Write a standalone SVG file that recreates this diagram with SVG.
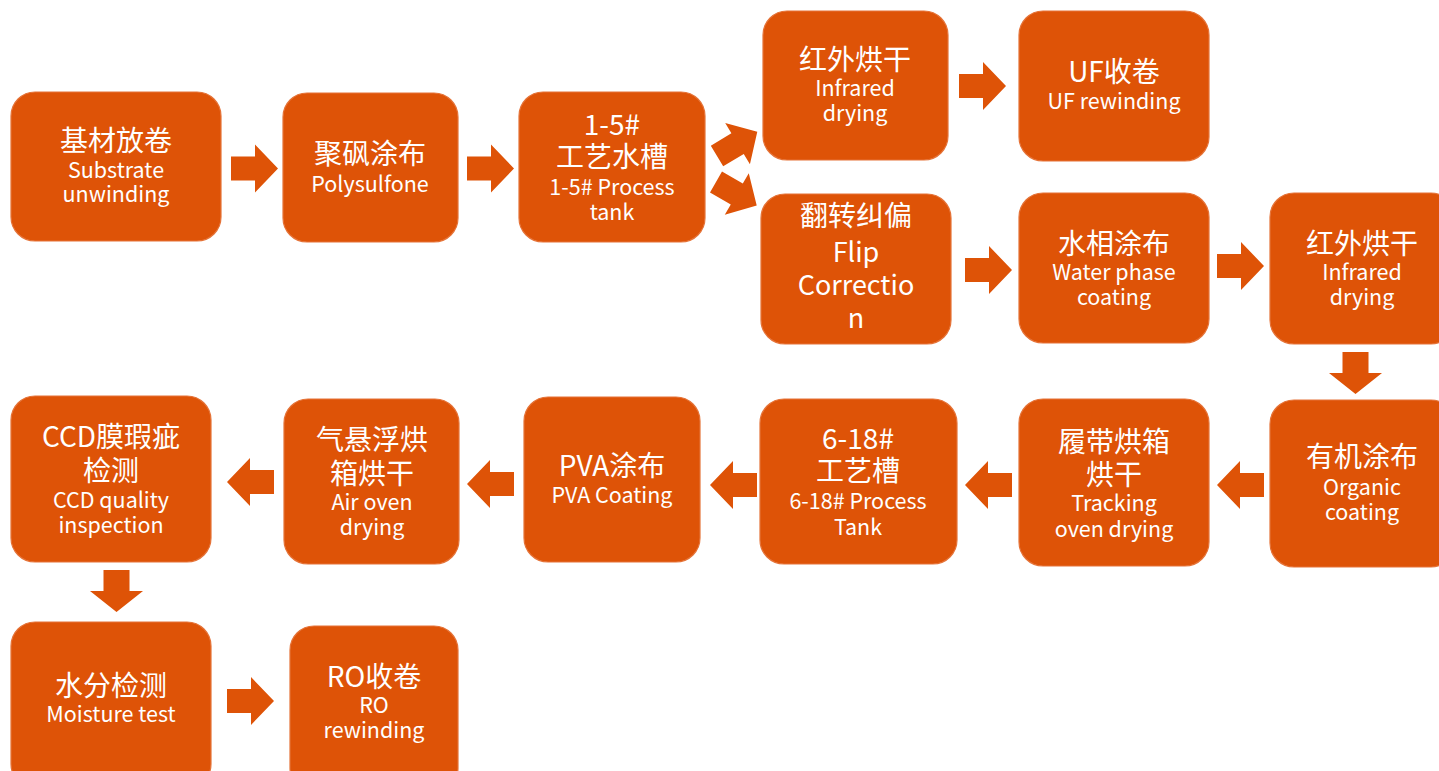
<svg xmlns="http://www.w3.org/2000/svg" xmlns:xlink="http://www.w3.org/1999/xlink" width="1439" height="771" viewBox="0 0 1439 771">
<style>
.box{fill:#DE5307;stroke:#E57338;stroke-width:1.2}
.arr{fill:#DE5307}
text{fill:#FFFFFF;font-family:"Noto Sans CJK SC","Noto Sans",sans-serif;text-anchor:middle}
.zh{font-size:28px}
.en{font-size:21.5px}
.big{font-size:27px}
</style>
<defs>
<path id="ar" d="M0,-12 H24 V-24 L47,0 L24,24 V12 H0 Z"/>
<path id="ad" d="M-13,0 H13 V21 H26.5 L0,42 L-26.5,21 H-13 Z"/>
</defs>
<rect width="1439" height="771" fill="#FFFFFF"/>
<g id="connectors" class="arr">
<use xlink:href="#ar" transform="translate(231,168.5)"/>
<use xlink:href="#ar" transform="translate(467,168.5)"/>
<use xlink:href="#ar" transform="translate(717,156) rotate(-31)"/>
<use xlink:href="#ar" transform="translate(716,182) rotate(30)"/>
<use xlink:href="#ar" transform="translate(959,86)"/>
<use xlink:href="#ar" transform="translate(965,270)"/>
<use xlink:href="#ar" transform="translate(1217,266)"/>
<use xlink:href="#ad" transform="translate(1355.5,352)"/>
<use xlink:href="#ar" transform="translate(1264,485) rotate(180)"/>
<use xlink:href="#ar" transform="translate(1012,485) rotate(180)"/>
<use xlink:href="#ar" transform="translate(757,485) rotate(180)"/>
<use xlink:href="#ar" transform="translate(514,484) rotate(180)"/>
<use xlink:href="#ar" transform="translate(274,482) rotate(180)"/>
<use xlink:href="#ad" transform="translate(116.5,570)"/>
<use xlink:href="#ar" transform="translate(227,701)"/>
</g>
<g id="n1"><rect class="box" x="11" y="92" width="210" height="149" rx="24"/>
<text class="zh" x="116" y="151">基材放卷</text><text class="en" x="116" y="178">Substrate</text><text class="en" x="116" y="202">unwinding</text></g>
<g id="n2"><rect class="box" x="283" y="93" width="175" height="149" rx="24"/>
<text class="zh" x="370" y="164">聚砜涂布</text><text class="en" x="370" y="192">Polysulfone</text></g>
<g id="n3"><rect class="box" x="519" y="92" width="186" height="150" rx="24"/>
<text class="zh" x="612" y="135">1-5#</text><text class="zh" x="612" y="167">工艺水槽</text><text class="en" x="612" y="195">1-5# Process</text><text class="en" x="612" y="220">tank</text></g>
<g id="n4"><rect class="box" x="763" y="11" width="185" height="149" rx="24"/>
<text class="zh" x="855" y="70">红外烘干</text><text class="en" x="855" y="96">Infrared</text><text class="en" x="855" y="121">drying</text></g>
<g id="n5"><rect class="box" x="1019" y="11" width="190" height="150" rx="24"/>
<text class="zh" x="1114" y="82">UF收卷</text><text class="en" x="1114" y="109">UF rewinding</text></g>
<g id="n6"><rect class="box" x="761" y="194" width="190" height="150" rx="24"/>
<text class="zh" x="856" y="226">翻转纠偏</text><text class="big" x="856" y="262">Flip</text><text class="big" x="856" y="295">Correctio</text><text class="big" x="856" y="328">n</text></g>
<g id="n7"><rect class="box" x="1019" y="193" width="190" height="150" rx="24"/>
<text class="zh" x="1114" y="254">水相涂布</text><text class="en" x="1114" y="280">Water phase</text><text class="en" x="1114" y="305">coating</text></g>
<g id="n8"><rect class="box" x="1270" y="193" width="185" height="151" rx="24"/>
<text class="zh" x="1362" y="254">红外烘干</text><text class="en" x="1362" y="280">Infrared</text><text class="en" x="1362" y="305">drying</text></g>
<g id="n9"><rect class="box" x="1270" y="400" width="185" height="167" rx="24"/>
<text class="zh" x="1362" y="467">有机涂布</text><text class="en" x="1362" y="495">Organic</text><text class="en" x="1362" y="520">coating</text></g>
<g id="n10"><rect class="box" x="1019" y="399" width="190" height="167" rx="24"/>
<text class="zh" x="1114" y="452">履带烘箱</text><text class="zh" x="1114" y="485">烘干</text><text class="en" x="1114" y="511">Tracking</text><text class="en" x="1114" y="537">oven drying</text></g>
<g id="n11"><rect class="box" x="760" y="399" width="197" height="165" rx="24"/>
<text class="zh" x="858" y="449">6-18#</text><text class="zh" x="858" y="481">工艺槽</text><text class="en" x="858" y="509">6-18# Process</text><text class="en" x="858" y="535">Tank</text></g>
<g id="n12"><rect class="box" x="524" y="397" width="176" height="165" rx="24"/>
<text class="zh" x="612" y="476">PVA涂布</text><text class="en" x="612" y="503">PVA Coating</text></g>
<g id="n13"><rect class="box" x="284" y="399" width="175" height="165" rx="24"/>
<text class="zh" x="372" y="450">气悬浮烘</text><text class="zh" x="372" y="484">箱烘干</text><text class="en" x="372" y="510">Air oven</text><text class="en" x="372" y="535">drying</text></g>
<g id="n14"><rect class="box" x="11" y="396" width="200" height="166" rx="24"/>
<text class="zh" x="111" y="447">CCD膜瑕疵</text><text class="zh" x="111" y="481">检测</text><text class="en" x="111" y="508">CCD quality</text><text class="en" x="111" y="533">inspection</text></g>
<g id="n15"><rect class="box" x="11" y="622" width="200" height="166" rx="24"/>
<text class="zh" x="111" y="696">水分检测</text><text class="en" x="111" y="722">Moisture test</text></g>
<g id="n16"><rect class="box" x="290" y="626" width="168" height="166" rx="24"/>
<text class="zh" x="374" y="687">RO收卷</text><text class="en" x="374" y="713">RO</text><text class="en" x="374" y="738">rewinding</text></g>
</svg>
